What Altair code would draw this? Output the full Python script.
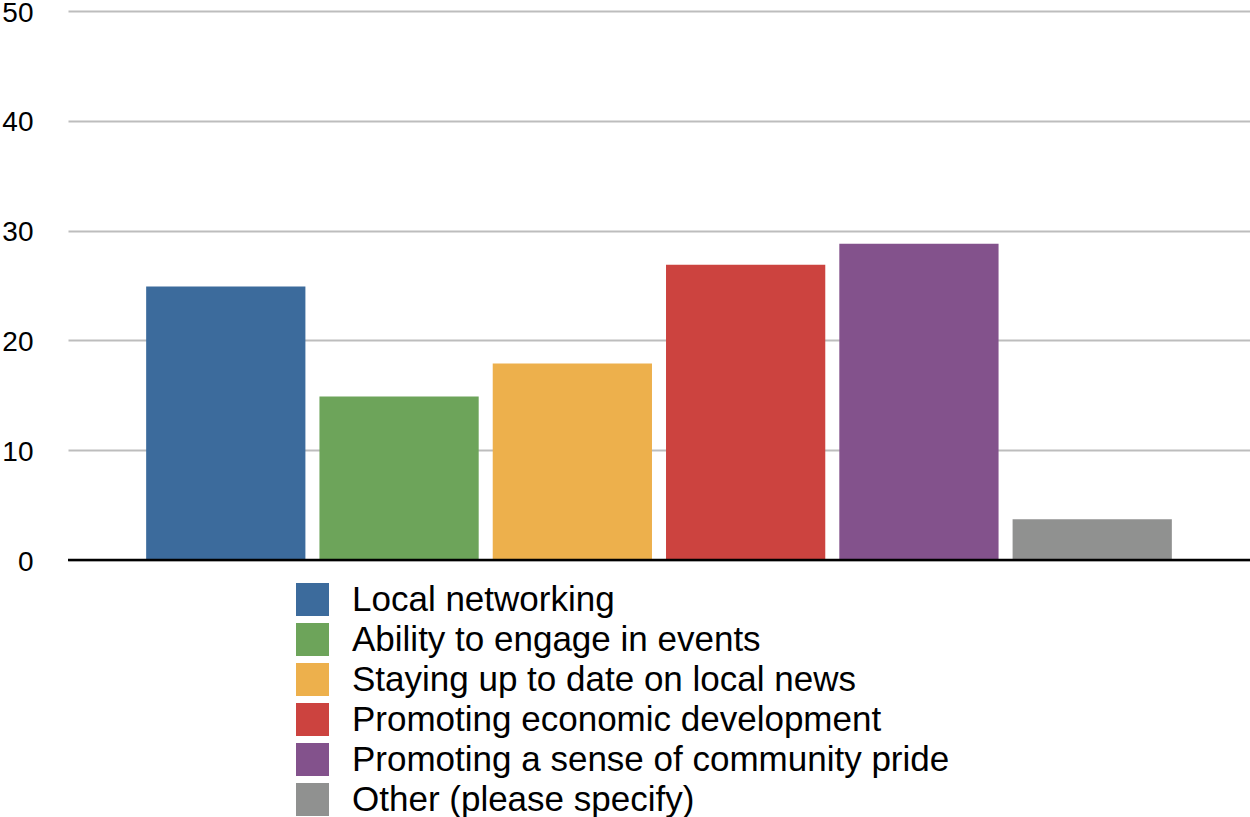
import altair as alt
import pandas as pd

categories = [
    "Local networking",
    "Ability to engage in events",
    "Staying up to date on local news",
    "Promoting economic development",
    "Promoting a sense of community pride",
    "Other (please specify)",
]
values = [24.9, 14.9, 17.9, 26.9, 28.8, 3.7]
colors = ["#3C6B9C", "#6DA45A", "#EDB04C", "#CC433F", "#83528C", "#909190"]
y_ticks = [0, 10, 20, 30, 40, 50]

df = pd.DataFrame({"category": categories, "value": values})

FONT = "Liberation Sans"

chart = (
    alt.Chart(df)
    .mark_bar()
    .encode(
        x=alt.X(
            "category:N",
            sort=categories,
            axis=None,
            scale=alt.Scale(paddingInner=0.081, paddingOuter=0.451),
        ),
        y=alt.Y(
            "value:Q",
            scale=alt.Scale(domain=[0, 50], nice=False),
            axis=alt.Axis(
                values=y_ticks,
                title=None,
                ticks=False,
                domain=False,
                grid=True,
                gridColor="#BDBDBD",
                gridWidth=2,
                labelFont=FONT,
                labelFontSize=28,
                labelColor="#000000",
                labelPadding=35,
                labelBaseline="middle",
                labelOffset=2,
            ),
        ),
        color=alt.Color(
            "category:N",
            sort=categories,
            scale=alt.Scale(domain=categories, range=colors),
            legend=alt.Legend(
                title=None,
                orient="none",
                legendX=227,
                legendY=571,
                direction="vertical",
                symbolType="square",
                symbolSize=1089,
                symbolStrokeWidth=0,
                symbolOpacity=1,
                labelFont=FONT,
                labelFontSize=35,
                labelColor="#000000",
                labelOffset=22,
                rowPadding=4,
                labelLimit=800,
            ),
        ),
    )
)

baseline = (
    alt.Chart(pd.DataFrame({"y": [0]}))
    .mark_rule(color="#000000", strokeWidth=2.5)
    .encode(y="y:Q")
)

final = (
    alt.layer(chart, baseline)
    .properties(
        width=1182,
        height=549,
        padding={"left": 68, "top": 11, "right": 0, "bottom": 257},
        autosize=alt.AutoSizeParams(type="none"),
    )
    .configure_view(stroke=None)
)

final.save("out.html", embed_options={"renderer": "svg", "actions": False})
